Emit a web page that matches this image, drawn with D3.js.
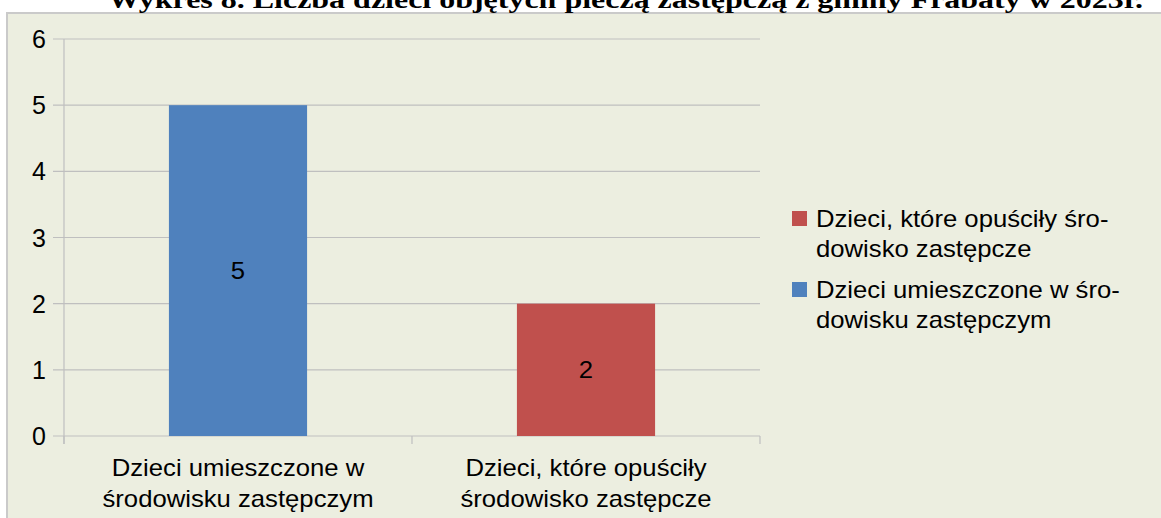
<!DOCTYPE html>
<html>
<head>
<meta charset="utf-8">
<script src="https://cdn.jsdelivr.net/npm/d3@7"></script>
<style>
  body { margin: 0; background: #fff; }
  svg { display: block; }
  text { font-family: "Liberation Sans", Arial, sans-serif; fill: #000; }
</style>
</head>
<body>
<svg id="chart" width="1161" height="518"></svg>
<script>
// data
const title = "Wykres 8. Liczba dzieci objętych pieczą zastępczą z gminy Frabaty w 2023r.";
const categories = ["Dzieci umieszczone w środowisku zastępczym", "Dzieci, które opuściły środowisko zastępcze"];
const catLines = [["Dzieci umieszczone w", "środowisku zastępczym"], ["Dzieci, które opuściły", "środowisko zastępcze"]];
const values = [5, 2];
const colors = ["#4F81BD", "#C0504D"];
const yTicks = [0, 1, 2, 3, 4, 5, 6];
// legend shows series in reverse order, with hyphenated wrapping
const legendItems = [
  { lines: ["Dzieci, które opuściły śro-", "dowisko zastępcze"], color: "#C0504D" },
  { lines: ["Dzieci umieszczone w śro-", "dowisku zastępczym"], color: "#4F81BD" }
];

const svg = d3.select("#chart");
const stretch = 1.07; // source picture text is a bit wider than normal

// panel
svg.append("rect")
  .attr("x", 7).attr("y", 13)
  .attr("width", 1170).attr("height", 520)
  .attr("fill", "#ECEEE0")
  .attr("stroke", "#CACACA")
  .attr("stroke-width", 2);

// title (top is cut off in the original)
svg.append("text")
  .attr("x", 108).attr("y", 8)
  .attr("textLength", 1035)
  .attr("lengthAdjust", "spacingAndGlyphs")
  .style("font-family", "'Liberation Serif', 'Times New Roman', serif")
  .style("font-weight", "bold")
  .style("font-size", "26px")
  .text(title);

const x0 = 64, x1 = 760, yTop = 39, yBot = 436;

const x = d3.scaleBand()
  .domain(categories)
  .range([x0, x1])
  .paddingInner(0.603)
  .paddingOuter(0.3015);

const y = d3.scaleLinear().domain([0, 6]).range([yBot, yTop]);

// gridlines
svg.append("g")
  .selectAll("line")
  .data(yTicks)
  .join("line")
  .attr("x1", x0 - 11).attr("x2", x1)
  .attr("y1", d => y(d)).attr("y2", d => y(d))
  .attr("stroke", "#BFBFBF")
  .attr("stroke-width", 1.2);

// y axis line
svg.append("line")
  .attr("x1", x0).attr("x2", x0)
  .attr("y1", yTop).attr("y2", yBot + 8)
  .attr("stroke", "#BFBFBF")
  .attr("stroke-width", 1.2);

// x category ticks
const bounds = [x0, (x0 + x1) / 2, x1];
svg.append("g")
  .selectAll("line")
  .data(bounds)
  .join("line")
  .attr("x1", d => d).attr("x2", d => d)
  .attr("y1", yBot).attr("y2", yBot + 8)
  .attr("stroke", "#BFBFBF")
  .attr("stroke-width", 1.2);

// y tick labels
svg.append("g")
  .selectAll("text")
  .data(yTicks)
  .join("text")
  .attr("x", 46)
  .attr("y", d => y(d))
  .attr("dy", "0.36em")
  .attr("text-anchor", "end")
  .style("font-size", "25px")
  .text(d => d);

// bars
svg.append("g")
  .selectAll("rect")
  .data(values)
  .join("rect")
  .attr("x", (d, i) => x(categories[i]))
  .attr("y", d => y(d))
  .attr("width", x.bandwidth())
  .attr("height", d => y(0) - y(d))
  .attr("fill", (d, i) => colors[i]);

// value labels
svg.append("g")
  .selectAll("text")
  .data(values)
  .join("text")
  .attr("transform", (d, i) => `translate(${x(categories[i]) + x.bandwidth() / 2},${(y(d) + y(0)) / 2}) scale(${stretch},1)`)
  .attr("dy", "0.36em")
  .attr("text-anchor", "middle")
  .style("font-size", "24px")
  .text(d => d);

// category labels
const cat = svg.append("g")
  .selectAll("text")
  .data(catLines)
  .join("text")
  .attr("transform", (d, i) => `translate(${x(categories[i]) + x.bandwidth() / 2},0) scale(${stretch},1)`)
  .attr("text-anchor", "middle")
  .style("font-size", "24px");
cat.selectAll("tspan")
  .data(d => d)
  .join("tspan")
  .attr("x", 0)
  .attr("y", (d, j) => 476 + j * 31)
  .text(d => d);

// legend
const leg = svg.append("g").attr("transform", "translate(792,211)");
const li = leg.selectAll("g")
  .data(legendItems)
  .join("g")
  .attr("transform", (d, i) => `translate(0,${i * 71})`);
li.append("rect")
  .attr("width", 15).attr("height", 15)
  .attr("fill", d => d.color);
li.append("text")
  .attr("transform", `translate(24,0) scale(${stretch},1)`)
  .style("font-size", "24px")
  .selectAll("tspan")
  .data(d => d.lines)
  .join("tspan")
  .attr("x", 0)
  .attr("y", (d, j) => 16 + j * 30)
  .text(d => d);
</script>
</body>
</html>
